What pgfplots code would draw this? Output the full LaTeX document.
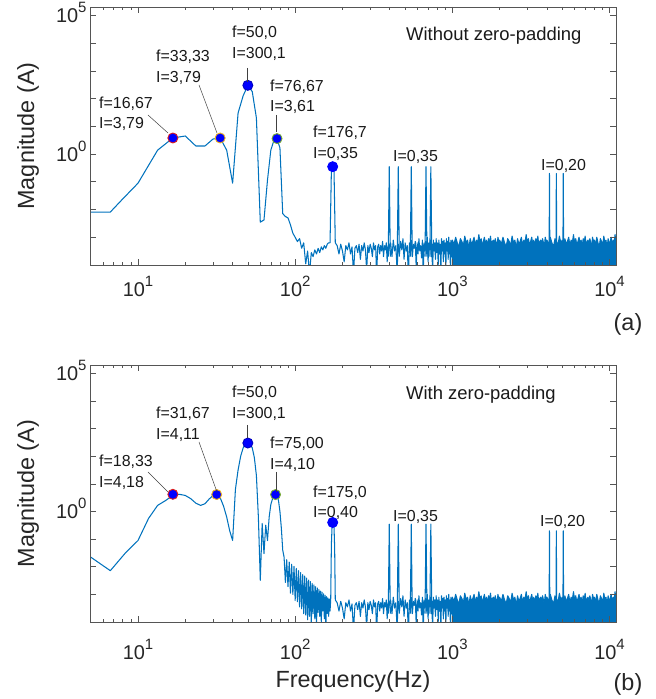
\documentclass[border=0pt]{standalone}
\usepackage{fontspec}
\setmainfont{Liberation Sans}
\usepackage{pgfplots}
\pgfplotsset{compat=1.18}
\usepackage{pgfplotstable}
\definecolor{mblue}{RGB}{0,114,189}
\definecolor{axcol}{RGB}{85,85,85}
\definecolor{txtcol}{RGB}{38,38,38}
\definecolor{mkb}{RGB}{0,0,255}
\definecolor{mkorange}{RGB}{237,177,32}
\definecolor{mkgreen}{RGB}{119,172,48}
\definecolor{mkred}{RGB}{220,30,30}
\newcommand{\tickfont}{\fontsize{20}{24}\selectfont}
\newcommand{\annfont}{\fontsize{16}{19}\selectfont}
\newcommand{\tp}[1]{10\raisebox{10bp}{\fontsize{15}{15}\selectfont #1}}
\tikzset{
  mline/.style={draw=mblue, line width=1.05pt, line join=round},
  mkst/.style={only marks, mark=*, mark size=5bp},
}

\pgfplotstableread{
f v
3.333 0.0081
6.667 0.0081
7.9 0.0224
10 0.089
13.33 1.38
16.67 3.79
20 4.47
23.33 1.95
26.67 1.95
30 3.47
33.33 3.79
36.67 1.38
40 0.089
43.33 30.2
46.67 126
50 300.1
53.33 178
56.67 20
60 0.0035
63.33 0.0042
66.67 0.115
70 1.38
73.33 3.16
76.67 3.61
80 1.66
83.33 0.0071
86.67 0.0056
90 0.005
93.33 0.0028
96.67 0.0014
100 0.001
103.3 7e-4
106.7 8.9e-4
110 4e-4
113.3 6.3e-4
116.7 1.1e-4
120 3.2e-4
123.3 5e-5
126.7 2.8e-4
130 2e-4
133.3 3.5e-4
136.7 2.5e-4
140 4e-4
143.3 2.8e-4
146.7 4.5e-4
150 3.5e-4
153.3 5e-4
156.7 4e-4
160 5.6e-4
163.3 6.3e-4
166.7 6.3e-4
170 0.25
173.3 0.35
176.7 0.25
180 6.3e-4
}\lowA

\pgfplotstableread{
f v
3.333 0.11
6.667 0.0072
8.333 0.032
10 0.089
11.67 0.56
13.33 1.66
15 2.5
16.67 3.8
18.33 4.18
20 3.8
21.67 2.9
23.33 2.0
25 1.66
26.67 1.9
28.33 2.8
30 3.8
31.67 4.11
33.33 3.16
35 1.58
36.67 0.63
38.33 0.2
40 0.089
41.67 6.3
43.33 31.6
45 100
46.67 200
48.33 282
50 300.1
51.67 282
53.33 200
55 89
56.67 20
58.33 0.63
60 0.0032
61.67 0.37
63.33 0.03
65 0.32
66.67 0.089
68.33 0.63
70 1.78
71.67 2.8
73.33 3.8
75 4.10
76.67 3.8
78.33 2.5
80 1.0
81.67 0.25
83.33 0.04
85.00 0.0224
86.67 0.0027
88.33 0.018
90.00 0.0019
91.67 0.0148
93.33 0.0011
95.00 0.0123
96.67 0.001
98.33 0.0102
100.00 6e-4
101.67 0.0087
103.33 5.4e-4
105.00 0.0072
106.67 3.5e-4
108.33 0.0062
110.00 3e-4
111.67 0.0052
113.33 2e-4
115.00 0.0046
116.67 1.8e-4
118.33 0.0039
120.00 1.2e-4
121.67 0.0033
123.33 1.6e-4
125.00 0.0029
126.67 8e-5
128.33 0.0025
130.00 2e-4
131.67 0.0022
133.33 1.3e-4
135.00 0.0019
136.67 6e-5
138.33 0.0017
140.00 2.2e-4
141.67 0.0015
143.33 1.6e-4
145.00 0.0013
146.67 1e-4
148.33 0.0012
150.00 2.5e-4
151.67 0.00105
153.33 1.3e-4
155.00 9.3e-4
156.67 5e-5
158.33 8.3e-4
160.00 2e-4
161.67 7.4e-4
163.33 1.6e-4
165.00 6.8e-4
166.67 2.5e-4
168.33 6.3e-4
170 0.063
171.67 0.28
173.33 0.37
175 0.37
176.67 0.28
178.33 0.05
180 6.3e-4
}\lowB

\pgfplotstableread{
f v
180 6.3e-4
185 5e-4
190 2.5e-4
195 5.6e-4
200 3.2e-4
205 1.3e-4
210 5e-4
215 3.5e-4
220 6.3e-4
225 2.5e-4
230 4.5e-4
235 5e-5
240 4e-4
245 5e-4
250 2.8e-4
255 5.6e-4
260 1.6e-4
265 5e-4
270 3.2e-4
275 6.3e-4
280 3.5e-4
285 6.3e-5
290 5e-4
295 2.8e-4
300 5.6e-4
305 4e-4
310 2e-4
315 6.3e-4
320 3.5e-4
325 5e-4
330 4e-5
335 4.5e-4
340 5.6e-4
345 2.5e-4
350 5e-4
355 3.2e-4
360 7.1e-4
365 2e-4
370 5e-4
375 3.5e-4
380 6.3e-4
385 1.3e-4
390 5e-4
395 3.2e-4
400 5.6e-4
405 6.3e-4
413 2e-4
421 7.9e-4
429 3.2e-4
437 5e-4
445 6.3e-5
453 5.6e-4
461 2.5e-4
469 7.1e-4
477 3.5e-4
485 8.9e-4
493 1.6e-4
501 6.3e-4
509 3.2e-4
517 5e-4
525 3.2e-5
533 6.3e-4
541 2.8e-4
549 7.9e-4
557 2e-4
565 5.6e-4
573 4e-4
581 7.1e-4
589 8e-5
597 6.3e-4
605 2.5e-4
613 8.9e-4
621 3.2e-4
629 5e-4
637 1.8e-4
645 7.9e-4
653 5e-5
661 6.3e-4
669 3.2e-4
677 7.1e-4
685 2.5e-4
693 1e-3
701 1.3e-4
709 6.3e-4
717 3.5e-4
725 7.9e-4
733 2e-4
741 5.6e-4
749 4e-5
757 7.9e-4
765 3.2e-4
773 6.3e-4
781 1.6e-4
789 8.9e-4
797 2.8e-4
805 6.3e-4
813 1e-4
821 7.9e-4
829 2.5e-4
837 5.6e-4
845 3.2e-5
853 8.9e-4
861 3.2e-4
869 7.1e-4
877 1.3e-4
885 7.9e-4
893 2.5e-4
901 6.3e-4
909 6.3e-5
917 8.9e-4
925 3.2e-4
933 7.1e-4
941 1.6e-4
949 1e-3
957 2.5e-4
965 6.3e-4
973 5e-5
981 7.9e-4
989 2e-4
997 7.1e-4
1000 5e-4
}\noiseB

\pgfplotstableread{
f v
1000 1e-5
1000 7.9e-4
1025 5.6e-4
1050 1e-3
1075 6.3e-4
1100 4.5e-4
1125 8.9e-4
1150 7.1e-4
1175 5e-4
1200 1.1e-3
1225 6.3e-4
1250 7.9e-4
1275 4e-4
1300 8.9e-4
1325 5.6e-4
1350 7.1e-4
1375 1e-3
1400 5e-4
1425 7.9e-4
1450 6.3e-4
1475 1.25e-3
1500 6.3e-4
1525 8.9e-4
1550 5e-4
1575 7.1e-4
1600 1e-3
1625 5.6e-4
1650 7.9e-4
1675 4.5e-4
1700 8.9e-4
1725 6.3e-4
1750 1.1e-3
1775 5e-4
1800 7.1e-4
1825 7.9e-4
1850 5.6e-4
1875 8.9e-4
1900 6.3e-4
1925 4.5e-4
1950 1e-3
1975 7.1e-4
2000 7.9e-4
2050 5.6e-4
2100 1e-3
2150 6.3e-4
2200 4.5e-4
2250 8.9e-4
2300 7.1e-4
2350 5e-4
2400 1.1e-3
2450 6.3e-4
2500 7.9e-4
2550 4e-4
2600 8.9e-4
2650 5.6e-4
2700 7.1e-4
2750 1e-3
2800 5e-4
2850 7.9e-4
2900 6.3e-4
2950 1.25e-3
3000 6.3e-4
3050 8.9e-4
3100 5e-4
3150 7.1e-4
3200 1e-3
3250 5.6e-4
3300 7.9e-4
3350 4.5e-4
3400 8.9e-4
3450 6.3e-4
3500 1.1e-3
3550 5e-4
3600 7.1e-4
3650 7.9e-4
3700 5.6e-4
3750 8.9e-4
3800 6.3e-4
3850 4.5e-4
3900 1e-3
3950 7.1e-4
4000 7.9e-4
4100 5.6e-4
4200 1e-3
4300 6.3e-4
4400 4.5e-4
4500 8.9e-4
4600 7.1e-4
4700 5e-4
4800 1.1e-3
4900 6.3e-4
5000 7.9e-4
5100 4e-4
5200 8.9e-4
5300 5.6e-4
5400 7.1e-4
5500 1e-3
5600 5e-4
5700 7.9e-4
5800 6.3e-4
5900 1.25e-3
6000 6.3e-4
6100 8.9e-4
6200 5e-4
6300 7.1e-4
6400 1e-3
6500 5.6e-4
6600 7.9e-4
6700 4.5e-4
6800 8.9e-4
6900 6.3e-4
7000 1.1e-3
7100 5e-4
7200 7.1e-4
7300 7.9e-4
7400 5.6e-4
7500 8.9e-4
7600 6.3e-4
7700 4.5e-4
7800 1e-3
7900 7.1e-4
8000 7.9e-4
8150 5.6e-4
8300 1e-3
8450 6.3e-4
8600 4.5e-4
8750 8.9e-4
8900 7.1e-4
9050 5e-4
9200 1.1e-3
9350 6.3e-4
9500 7.9e-4
9650 4e-4
9800 8.9e-4
9950 5.6e-4
10100 7.1e-4
10250 1e-3
10400 5e-4
10550 7.9e-4
10700 6.3e-4
10850 1.25e-3
11000 6.3e-4
11000 1e-5
}\noiseC

\pgfplotstableread{
f v
391 2e-4
397 0.35
403 2e-4
nan nan
446 2e-4
453 0.35
460 2e-4
nan nan
540 2e-4
548 0.35
556 2e-4
nan nan
670 2e-4
680 0.35
690 2e-4
nan nan
719 2e-4
730 0.35
741 2e-4
nan nan
4130 5e-4
4150 0.2
4170 5e-4
nan nan
4567 5e-4
4590 0.2
4613 5e-4
nan nan
5055 5e-4
5080 0.2
5105 5e-4
}\spikes

\begin{document}
\begin{tikzpicture}[x=1bp,y=1bp]
\useasboundingbox (0bp,0bp) rectangle (656bp,699bp);
% ---------- (a)
\begin{axis}[
    at={(90bp,434bp)}, anchor=south west,
    width=526bp, height=258bp, scale only axis,
    xmode=log, ymode=log,
    xmin=4.95, xmax=11000, ymin=1e-4, ymax=2e5,
    axis on top,
    axis line style={draw=axcol, line width=0.7pt},
    major tick style={draw=axcol, line width=0.6pt},
    minor tick style={draw=axcol, line width=0.6pt},
    major tick length=6bp, minor tick length=3.5bp,
    tick align=inside,
    xtick={10,100,1000,10000},
    xticklabels={\tp{1},\tp{2},\tp{3},\tp{4}},
    minor xtick={6,7,8,9,20,30,40,50,60,70,80,90,200,300,400,500,600,700,800,900,2000,3000,4000,5000,6000,7000,8000,9000},
    ytick={1e-3,1e-2,1e-1,1,10,100,1000,10000,100000},
    yticklabels={,,,\tp{0},,,,,\tp{5}},
    yminorticks=false,
    tick label style={font=\tickfont, text=txtcol},
    yticklabel style={anchor=base east, yshift=-7bp},
    xticklabel style={anchor=base, yshift=-32bp},
  ]
\addplot[mline] table {\lowA};
\addplot[mline] table {\noiseB};
\addplot[mline, fill=mblue] table {\noiseC};
\addplot[mline, unbounded coords=jump] table {\spikes};
\addplot[mkst, mark options={fill=mkb, draw=mkred, line width=0.9pt}] coordinates {(16.67,3.79)};
\addplot[mkst, mark options={fill=mkb, draw=mkorange, line width=0.9pt}] coordinates {(33.33,3.79)};
\addplot[mkst, mark options={fill=mkb, draw=mkb!75!black, line width=0.9pt}] coordinates {(50,300.1)};
\addplot[mkst, mark options={fill=mkb, draw=mkgreen, line width=0.9pt}] coordinates {(76.67,3.61)};
\addplot[mkst, mark options={fill=mkb, draw=mkb, line width=0.9pt}] coordinates {(173.3,0.35)};
\end{axis}
% ---------- (b)
\begin{axis}[
    at={(90bp,77bp)}, anchor=south west,
    width=526bp, height=257bp, scale only axis,
    xmode=log, ymode=log,
    xmin=4.95, xmax=11000, ymin=1e-4, ymax=2e5,
    axis on top,
    axis line style={draw=axcol, line width=0.7pt},
    major tick style={draw=axcol, line width=0.6pt},
    minor tick style={draw=axcol, line width=0.6pt},
    major tick length=6bp, minor tick length=3.5bp,
    tick align=inside,
    xtick={10,100,1000,10000},
    xticklabels={\tp{1},\tp{2},\tp{3},\tp{4}},
    minor xtick={6,7,8,9,20,30,40,50,60,70,80,90,200,300,400,500,600,700,800,900,2000,3000,4000,5000,6000,7000,8000,9000},
    ytick={1e-3,1e-2,1e-1,1,10,100,1000,10000,100000},
    yticklabels={,,,\tp{0},,,,,\tp{5}},
    yminorticks=false,
    tick label style={font=\tickfont, text=txtcol},
    yticklabel style={anchor=base east, yshift=-7bp},
    xticklabel style={anchor=base, yshift=-37bp},
  ]
\addplot[mline] table {\lowB};
\addplot[mline] table {\noiseB};
\addplot[mline, fill=mblue] table {\noiseC};
\addplot[mline, unbounded coords=jump] table {\spikes};
\addplot[mkst, mark options={fill=mkb, draw=mkred, line width=0.9pt}] coordinates {(16.67,4.18)};
\addplot[mkst, mark options={fill=mkb, draw=mkorange, line width=0.9pt}] coordinates {(31.67,4.11)};
\addplot[mkst, mark options={fill=mkb, draw=mkb!75!black, line width=0.9pt}] coordinates {(50,300.1)};
\addplot[mkst, mark options={fill=mkb, draw=mkgreen, line width=0.9pt}] coordinates {(75,4.10)};
\addplot[mkst, mark options={fill=mkb, draw=mkb, line width=0.9pt}] coordinates {(173.3,0.40)};
\end{axis}
% leader lines
\begin{scope}[draw=black!75, line width=0.5pt]
\draw (148,584) -- (168,566);
\draw (199,614) -- (217,566);
\draw (247,631) -- (247,617);
\draw (276,584) -- (276,567);
\draw (148,227) -- (168,207);
\draw (199,257) -- (217,207);
\draw (247,274) -- (247,261);
\draw (276,227) -- (276,207);
\end{scope}
% annotations
\begin{scope}[every node/.style={anchor=base west, inner sep=0pt, font=\annfont, text=black!90}]
\node at (99,590) {f=16,67};
\node at (99,570) {I=3,79};
\node at (156,637) {f=33,33};
\node at (156,616) {I=3,79};
\node at (232,661) {f=50,0};
\node at (232,640) {I=300,1};
\node at (270,607) {f=76,67};
\node at (270,587) {I=3,61};
\node at (313,561) {f=176,7};
\node at (313,540) {I=0,35};
\node at (393,537) {I=0,35};
\node at (541,528) {I=0,20};
\node[font=\fontsize{18.5}{22}\selectfont] at (406,658) {Without zero-padding};
\node at (99,233) {f=18,33};
\node at (99,212) {I=4,18};
\node at (156,281) {f=31,67};
\node at (156,260) {I=4,11};
\node at (232,302) {f=50,0};
\node at (232,281) {I=300,1};
\node at (270,251) {f=75,00};
\node at (270,230) {I=4,10};
\node at (313,202) {f=175,0};
\node at (313,182) {I=0,40};
\node at (393,178) {I=0,35};
\node at (540,173) {I=0,20};
\node[font=\fontsize{18.5}{22}\selectfont] at (406,300) {With zero-padding};
\end{scope}
% axis labels
\begin{scope}[every node/.style={font=\fontsize{23.5}{26}\selectfont, text=txtcol, inner sep=0pt}]
\node[rotate=90] at (28,563) {Magnitude (A)};
\node[rotate=90] at (28,205.5) {Magnitude (A)};
\node[anchor=base] at (353,12) {Frequency(Hz)};
\node[anchor=base] at (628,369) {(a)};
\node[anchor=base] at (628,9) {(b)};
\end{scope}
\end{tikzpicture}
\end{document}
